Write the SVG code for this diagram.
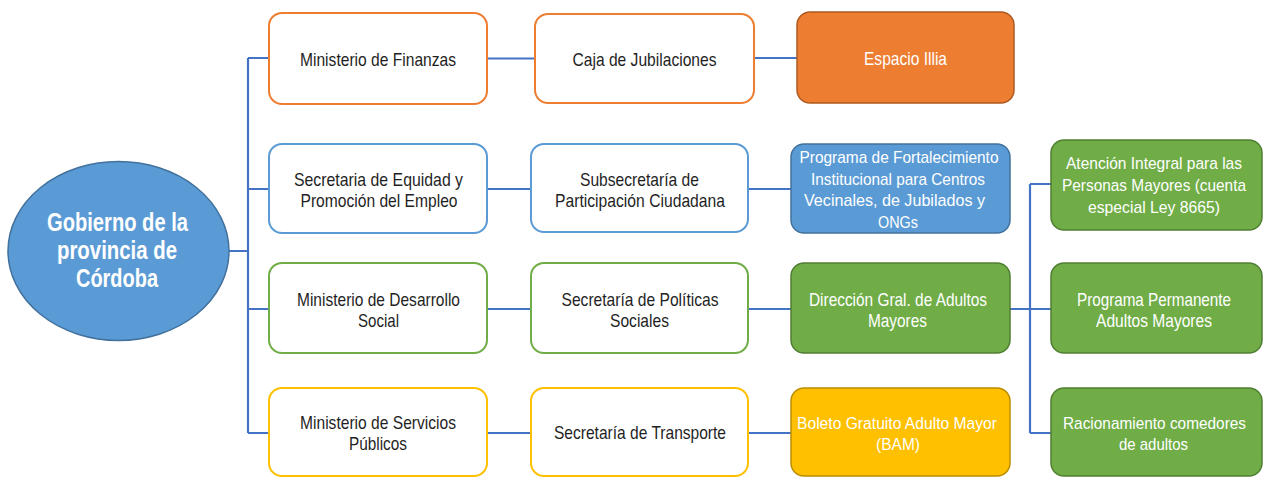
<svg xmlns="http://www.w3.org/2000/svg" width="1271" height="477" viewBox="0 0 1271 477">
<style>
.conn{stroke:#4472C4;stroke-width:2.2;fill:none}
.bo{fill:#fff;stroke:#ED7D31;stroke-width:2}
.bb{fill:#fff;stroke:#5B9BD5;stroke-width:2}
.bg{fill:#fff;stroke:#70AD47;stroke-width:2}
.by{fill:#fff;stroke:#FFC000;stroke-width:2}
.fo{fill:#ED7D31;stroke:#AE5A21;stroke-width:1.5}
.fb{fill:#5B9BD5;stroke:#41719C;stroke-width:1.5}
.fg{fill:#70AD47;stroke:#507E32;stroke-width:1.5}
.fy{fill:#FFC000;stroke:#BC8C00;stroke-width:1.5}
.t{font-family:"Liberation Sans",Arial,sans-serif;font-size:19px;fill:#1f1f1f;text-anchor:middle}
.s{font-size:17px}
.w{fill:#fff}
.h{font-family:"Liberation Sans",Arial,sans-serif;font-size:25px;font-weight:bold;fill:#fff;text-anchor:middle}
</style>
<rect width="1271" height="477" fill="#fff"/>
<g id="connectors">
<path class="conn" d="M229 251H248M248 58V433M248 58H269M248 189H269M248 309H269M248 433H269"/>
<path class="conn" d="M487 58.5H535M487 189H531M487 309H531M487 433H531"/>
<path class="conn" d="M754 58H797M748 189H791M748 309H791M748 433H791"/>
<path class="conn" d="M1010 309H1030M1030 184V433M1030 184H1051M1030 309H1051M1030 433H1051"/>
</g>
<g id="n-gobierno">
<ellipse cx="118.5" cy="251" rx="110.5" ry="89.5" fill="#5B9BD5" stroke="#41719C" stroke-width="1.5"/>
<text class="h"><tspan x="117.5" y="231" textLength="141" lengthAdjust="spacingAndGlyphs">Gobierno de la</tspan><tspan x="117" y="259" textLength="120" lengthAdjust="spacingAndGlyphs">provincia de</tspan><tspan x="117" y="287" textLength="82" lengthAdjust="spacingAndGlyphs">Córdoba</tspan></text>
</g>
<g id="n-min-finanzas">
<rect class="bo" x="269" y="13" width="218" height="91" rx="13"/>
<text class="t" x="378" y="65.5" textLength="156" lengthAdjust="spacingAndGlyphs">Ministerio de Finanzas</text>
</g>
<g id="n-caja">
<rect class="bo" x="535" y="14" width="219" height="89" rx="13"/>
<text class="t" x="644.5" y="65.5" textLength="144" lengthAdjust="spacingAndGlyphs">Caja de Jubilaciones</text>
</g>
<g id="n-espacio">
<rect class="fo" x="797" y="12" width="217" height="91" rx="13"/>
<text class="t w" x="905.5" y="65" textLength="83" lengthAdjust="spacingAndGlyphs">Espacio Illia</text>
</g>
<g id="n-sec-equidad">
<rect class="bb" x="269" y="144" width="218" height="89" rx="13"/>
<text class="t"><tspan x="378.5" y="186" textLength="169" lengthAdjust="spacingAndGlyphs">Secretaria de Equidad y</tspan><tspan x="379" y="207" textLength="157" lengthAdjust="spacingAndGlyphs">Promoción del Empleo</tspan></text>
</g>
<g id="n-subsec">
<rect class="bb" x="531" y="144" width="217" height="88" rx="13"/>
<text class="t"><tspan x="639.5" y="186" textLength="119" lengthAdjust="spacingAndGlyphs">Subsecretaría de</tspan><tspan x="640" y="207" textLength="170" lengthAdjust="spacingAndGlyphs">Participación Ciudadana</tspan></text>
</g>
<g id="n-programa-fort">
<rect class="fb" x="791" y="144" width="219" height="89" rx="13"/>
<text class="t s w"><tspan x="899" y="163" textLength="199" lengthAdjust="spacingAndGlyphs">Programa de Fortalecimiento</tspan><tspan x="898" y="184.5" textLength="174" lengthAdjust="spacingAndGlyphs">Institucional para Centros</tspan><tspan x="894.5" y="206" textLength="181" lengthAdjust="spacingAndGlyphs">Vecinales, de Jubilados y</tspan><tspan x="898" y="227.5" textLength="40" lengthAdjust="spacingAndGlyphs">ONGs</tspan></text>
</g>
<g id="n-atencion">
<rect class="fg" x="1051" y="140" width="211" height="90" rx="13"/>
<text class="t s w"><tspan x="1154" y="169" textLength="176" lengthAdjust="spacingAndGlyphs">Atención Integral para las</tspan><tspan x="1154" y="191" textLength="184" lengthAdjust="spacingAndGlyphs">Personas Mayores (cuenta</tspan><tspan x="1154" y="213" textLength="132" lengthAdjust="spacingAndGlyphs">especial Ley 8665)</tspan></text>
</g>
<g id="n-min-desarrollo">
<rect class="bg" x="269" y="263" width="218" height="90" rx="13"/>
<text class="t"><tspan x="378.5" y="305.5" textLength="163" lengthAdjust="spacingAndGlyphs">Ministerio de Desarrollo</tspan><tspan x="378.5" y="326.5" textLength="41" lengthAdjust="spacingAndGlyphs">Social</tspan></text>
</g>
<g id="n-sec-politicas">
<rect class="bg" x="531" y="263" width="217" height="90" rx="13"/>
<text class="t"><tspan x="640" y="305.5" textLength="157" lengthAdjust="spacingAndGlyphs">Secretaría de Políticas</tspan><tspan x="639.5" y="326.5" textLength="59" lengthAdjust="spacingAndGlyphs">Sociales</tspan></text>
</g>
<g id="n-direccion">
<rect class="fg" x="791" y="263" width="219" height="90" rx="13"/>
<text class="t w"><tspan x="898" y="305.5" textLength="178" lengthAdjust="spacingAndGlyphs">Dirección Gral. de Adultos</tspan><tspan x="897.5" y="326.5" textLength="59" lengthAdjust="spacingAndGlyphs">Mayores</tspan></text>
</g>
<g id="n-programa-perm">
<rect class="fg" x="1051" y="263" width="211" height="90" rx="13"/>
<text class="t w"><tspan x="1154" y="305.5" textLength="154" lengthAdjust="spacingAndGlyphs">Programa Permanente</tspan><tspan x="1154" y="326.5" textLength="116" lengthAdjust="spacingAndGlyphs">Adultos Mayores</tspan></text>
</g>
<g id="n-min-servicios">
<rect class="by" x="269" y="388" width="218" height="88" rx="13"/>
<text class="t"><tspan x="378" y="429" textLength="156" lengthAdjust="spacingAndGlyphs">Ministerio de Servicios</tspan><tspan x="378" y="450" textLength="58" lengthAdjust="spacingAndGlyphs">Públicos</tspan></text>
</g>
<g id="n-sec-transporte">
<rect class="by" x="531" y="388" width="217" height="88" rx="13"/>
<text class="t" x="640" y="439" textLength="172" lengthAdjust="spacingAndGlyphs">Secretaría de Transporte</text>
</g>
<g id="n-boleto">
<rect class="fy" x="791" y="388" width="219" height="88" rx="13"/>
<text class="t s w"><tspan x="897" y="429" textLength="200" lengthAdjust="spacingAndGlyphs">Boleto Gratuito Adulto Mayor</tspan><tspan x="898" y="450" textLength="44" lengthAdjust="spacingAndGlyphs">(BAM)</tspan></text>
</g>
<g id="n-racionamiento">
<rect class="fg" x="1051" y="388" width="211" height="88" rx="13"/>
<text class="t s w"><tspan x="1154.5" y="429" textLength="183" lengthAdjust="spacingAndGlyphs">Racionamiento comedores</tspan><tspan x="1153.5" y="450" textLength="69" lengthAdjust="spacingAndGlyphs">de adultos</tspan></text>
</g>
</svg>
